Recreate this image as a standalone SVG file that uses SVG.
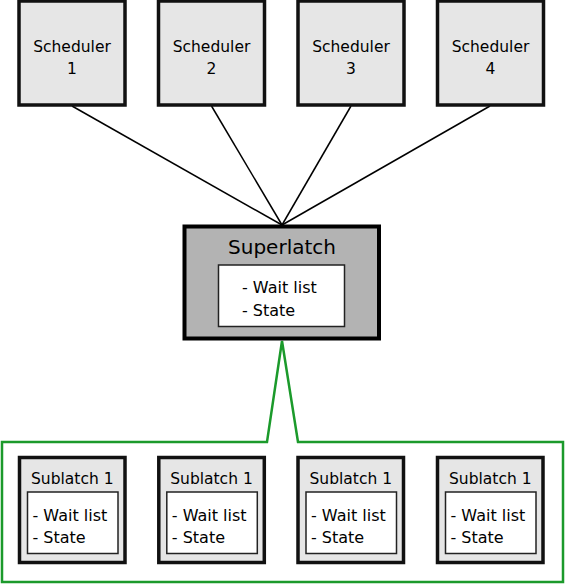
<svg xmlns="http://www.w3.org/2000/svg" width="565" height="584" viewBox="0 0 565 584">
<style>
text { font-family: "DejaVu Sans", "Liberation Sans", sans-serif; fill: #000; }
.sched { fill: #e6e6e6; stroke: #111; stroke-width: 3.5; }
.sub { fill: #e6e6e6; stroke: #111; stroke-width: 3.5; }
.inner { fill: #fff; stroke: #222; stroke-width: 1.5; }
.super { fill: #b3b3b3; stroke: #000; stroke-width: 4; }
.lbl { font-size: 15.5px; text-anchor: middle; }
.item { font-size: 16px; }
.link { stroke: #000; stroke-width: 1.5; fill: none; }
.green { stroke: #1b9a2b; stroke-width: 2.5; fill: none; stroke-linejoin: miter; }
</style>
<rect width="565" height="584" fill="#fff"/>
<g id="connectors">
  <line class="link" x1="72" y1="106" x2="282" y2="225"/>
  <line class="link" x1="211.5" y1="106" x2="282" y2="225"/>
  <line class="link" x1="351" y1="106" x2="282" y2="225"/>
  <line class="link" x1="490" y1="106" x2="282" y2="225"/>
  <polygon class="green" points="2,442 267,442 282,341 298,442 563,442 563,582 2,582"/>
</g>
<g id="scheduler1">
  <rect class="sched" x="19" y="1" width="106" height="104"/>
  <text class="lbl" x="72" y="51.5">Scheduler</text>
  <text class="lbl" x="72" y="73.5">1</text>
</g>
<g id="scheduler2">
  <rect class="sched" x="158.5" y="1" width="106" height="104"/>
  <text class="lbl" x="211.5" y="51.5">Scheduler</text>
  <text class="lbl" x="211.5" y="73.5">2</text>
</g>
<g id="scheduler3">
  <rect class="sched" x="298" y="1" width="106" height="104"/>
  <text class="lbl" x="351" y="51.5">Scheduler</text>
  <text class="lbl" x="351" y="73.5">3</text>
</g>
<g id="scheduler4">
  <rect class="sched" x="437.5" y="1" width="106" height="104"/>
  <text class="lbl" x="490.5" y="51.5">Scheduler</text>
  <text class="lbl" x="490.5" y="73.5">4</text>
</g>
<g id="superlatch">
  <rect class="super" x="184.5" y="226.5" width="194.5" height="112"/>
  <text x="282" y="253.5" font-size="20" text-anchor="middle">Superlatch</text>
  <rect class="inner" x="218.5" y="265" width="126" height="61.5"/>
  <text class="item" x="242" y="292.5">- Wait list</text>
  <text class="item" x="242" y="316">- State</text>
</g>
<g id="sublatch1">
  <rect class="sub" x="19.5" y="457.5" width="105.5" height="105"/>
  <text class="lbl" x="72.3" y="484">Sublatch 1</text>
  <rect class="inner" x="27.5" y="492" width="90.5" height="61.5"/>
  <text class="item" x="32.5" y="520.5">- Wait list</text>
  <text class="item" x="32.5" y="543">- State</text>
</g>
<g id="sublatch2">
  <rect class="sub" x="158.8" y="457.5" width="105.5" height="105"/>
  <text class="lbl" x="211.5" y="484">Sublatch 1</text>
  <rect class="inner" x="166.8" y="492" width="90.5" height="61.5"/>
  <text class="item" x="171.8" y="520.5">- Wait list</text>
  <text class="item" x="171.8" y="543">- State</text>
</g>
<g id="sublatch3">
  <rect class="sub" x="298" y="457.5" width="105.5" height="105"/>
  <text class="lbl" x="350.8" y="484">Sublatch 1</text>
  <rect class="inner" x="306" y="492" width="90.5" height="61.5"/>
  <text class="item" x="311" y="520.5">- Wait list</text>
  <text class="item" x="311" y="543">- State</text>
</g>
<g id="sublatch4">
  <rect class="sub" x="437.5" y="457.5" width="105.5" height="105"/>
  <text class="lbl" x="490.3" y="484">Sublatch 1</text>
  <rect class="inner" x="445.5" y="492" width="90.5" height="61.5"/>
  <text class="item" x="450.5" y="520.5">- Wait list</text>
  <text class="item" x="450.5" y="543">- State</text>
</g>
</svg>
